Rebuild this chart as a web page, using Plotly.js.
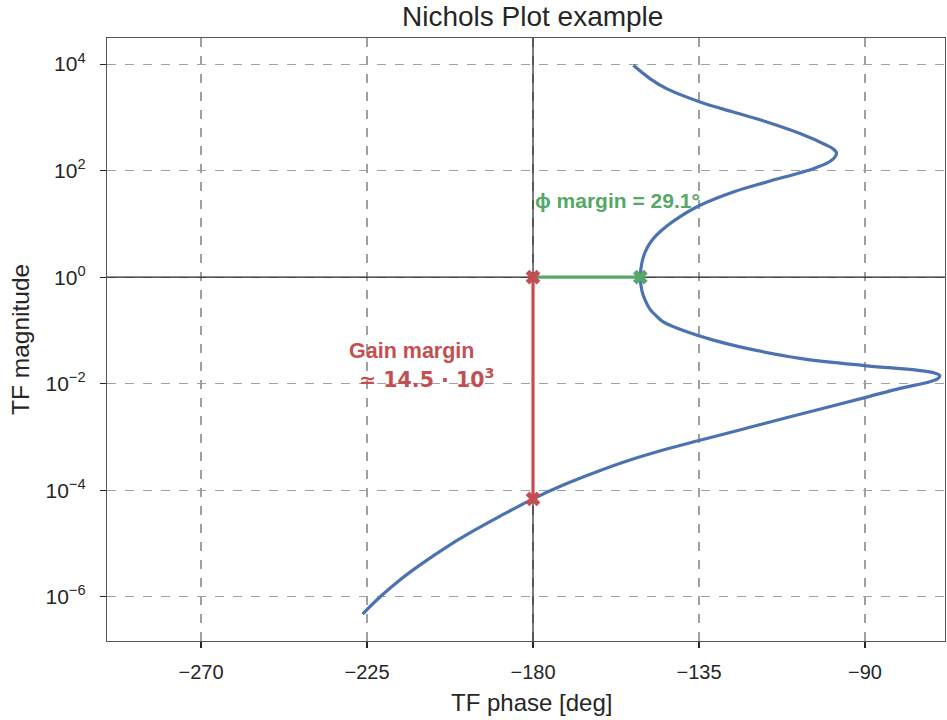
<!DOCTYPE html>
<html>
<head>
<meta charset="utf-8">
<script src="https://cdn.plot.ly/plotly-3.0.1.min.js"></script>
<style>html,body{margin:0;padding:0;background:#fff;}#chart{width:947px;height:720px;}</style>
</head>
<body>
<div id="chart"></div>
<script>
// Nichols curve (phase in degrees, magnitude)
const curvePhase = [-152.8, -148.3, -143.8, -134.7, -125.7, -116.6, -107.6, -100.4, -98.7, -97.7, -98.4, -100.6, -104.0, -107.6, -116.6, -125.7, -134.7, -140.2, -143.8, -146.4, -148.3, -149.6, -150.45, -150.9, -150.45, -149.6, -148.3, -146.4, -144.7, -138.3, -131.1, -123.9, -107.6, -89.5, -76.0, -71.6, -69.7, -70.2, -72.4, -80.5, -89.5, -107.6, -121.2, -126.6, -135.6, -144.7, -153.7, -162.7, -171.8, -180.0, -188.9, -195.7, -202.5, -210.6, -216.1, -221.5, -226.2];
const curveMag = [9.48e3, 5.35e3, 3.47e3, 1.95e3, 1.26e3, 820, 497, 300, 258, 212, 171, 135, 109, 91.4, 61.4, 39.8, 22.4, 13.6, 9.06, 6.27, 4.34, 2.94, 1.91, 1.0, 0.546, 0.370, 0.251, 0.182, 0.145, 0.0942, 0.0658, 0.0492, 0.0299, 0.0217, 0.0180, 0.0162, 0.0142, 0.0125, 0.0109, 8.17e-3, 5.61e-3, 2.67e-3, 1.52e-3, 1.21e-3, 8.38e-4, 5.68e-4, 3.69e-4, 2.22e-4, 1.25e-4, 6.9e-5, 3.27e-5, 1.80e-5, 9.46e-6, 3.98e-6, 2.07e-6, 9.91e-7, 4.75e-7];

// Margins
const phaseMarginPhase = [-180, -150.9];
const phaseMarginMag = [1, 1];
const gainMarginPhase = [-180, -180];
const gainMarginMag = [1, 6.9e-5];

// Axis ticks
const xTickVals = [-270, -225, -180, -135, -90];
const xTickText = ['\u2212270', '\u2212225', '\u2212180', '\u2212135', '\u221290'];
const yTickVals = [1e-6, 1e-4, 1e-2, 1, 1e2, 1e4];
const yTickText = ['10<sup>\u22126</sup>', '10<sup>\u22124</sup>', '10<sup>\u22122</sup>', '10<sup>0</sup>', '10<sup>2</sup>', '10<sup>4</sup>'];

const blue = '#4c72b0', green = '#55a868', red = '#c44e52';
const sans = '"Liberation Sans", Arial, sans-serif';
const tickFont = {family: sans, size: 20, color: '#262626'};

const traces = [
  {x: [-300, -60], y: [1, 1], mode: 'lines', line: {color: '#262626', width: 1.2}, hoverinfo: 'skip', showlegend: false},
  {x: [-180, -180], y: [1e-8, 1e6], mode: 'lines', line: {color: '#262626', width: 1.2}, hoverinfo: 'skip', showlegend: false},
  {x: curvePhase, y: curveMag, mode: 'lines', line: {color: blue, width: 3.2, shape: 'spline', smoothing: 1}, showlegend: false},
  {x: phaseMarginPhase, y: phaseMarginMag, mode: 'lines', line: {color: green, width: 3.2}, showlegend: false},
  {x: gainMarginPhase, y: gainMarginMag, mode: 'lines', line: {color: red, width: 3.2}, showlegend: false},
  {x: [phaseMarginPhase[1]], y: [phaseMarginMag[1]], mode: 'markers', marker: {symbol: 'x', size: 13, color: green}, showlegend: false},
  {x: gainMarginPhase, y: gainMarginMag, mode: 'markers', marker: {symbol: 'x', size: 13, color: red}, showlegend: false}
];

const layout = {
  width: 947, height: 720,
  margin: {l: 107, r: 2, t: 38, b: 79},
  paper_bgcolor: '#fff', plot_bgcolor: '#fff',
  showlegend: false,
  title: {text: 'Nichols Plot example', x: 0.5625, xanchor: 'center', y: 0.977, yanchor: 'middle',
          font: {family: sans, size: 28, color: '#262626'}},
  xaxis: {
    range: [-295.5, -68.3], tickvals: xTickVals, ticktext: xTickText,
    showgrid: true, gridcolor: '#a0a0a0', griddash: 'dash', gridwidth: 1.2,
    zeroline: false, showline: true, linecolor: '#555', linewidth: 1.2, mirror: true,
    ticks: 'outside', ticklen: 6, tickcolor: '#262626', tickwidth: 1.2,
    tickfont: tickFont, ticklabelstandoff: 7
  },
  yaxis: {
    type: 'log', range: [-6.83, 4.49], tickvals: yTickVals, ticktext: yTickText,
    showgrid: true, gridcolor: '#a0a0a0', griddash: 'dash', gridwidth: 1.2,
    zeroline: false, showline: true, linecolor: '#555', linewidth: 1.2, mirror: true,
    ticks: 'outside', ticklen: 6, tickcolor: '#262626', tickwidth: 1.2,
    tickfont: {family: sans, size: 21, color: '#262626'}, ticklabelstandoff: 10
  },
  annotations: [
    {x: 0.507, y: -0.1028, xref: 'paper', yref: 'paper', xanchor: 'center', yanchor: 'middle', showarrow: false,
     text: 'TF phase [deg]', font: {family: sans, size: 24, color: '#262626'}},
    {x: -0.104, y: 0.5006, xref: 'paper', yref: 'paper', xanchor: 'center', yanchor: 'middle', showarrow: false, textangle: -90,
     text: 'TF magnitude', font: {family: sans, size: 24.5, color: '#262626'}},
    {x: -180, y: Math.log10(27.9), xref: 'x', yref: 'y', xanchor: 'left', yanchor: 'middle', showarrow: false,
     text: '<b>\u03d5 margin = 29.1\u00b0</b>', font: {family: sans, size: 21, color: green}},
    {x: -213, y: Math.log10(0.041), xref: 'x', yref: 'y', xanchor: 'center', yanchor: 'middle', showarrow: false,
     text: '<b>Gain margin</b>', font: {family: sans, size: 21.5, color: red}},
    {x: -208.9, y: Math.log10(0.0128), xref: 'x', yref: 'y', xanchor: 'center', yanchor: 'middle', showarrow: false,
     text: '<b>\u2243 14.5 \u00b7 10<sup>3</sup></b>', font: {family: '"DejaVu Sans", sans-serif', size: 20.5, color: red}}
  ]
};

Plotly.newPlot('chart', traces, layout, {displayModeBar: false, staticPlot: true});
</script>
</body>
</html>
